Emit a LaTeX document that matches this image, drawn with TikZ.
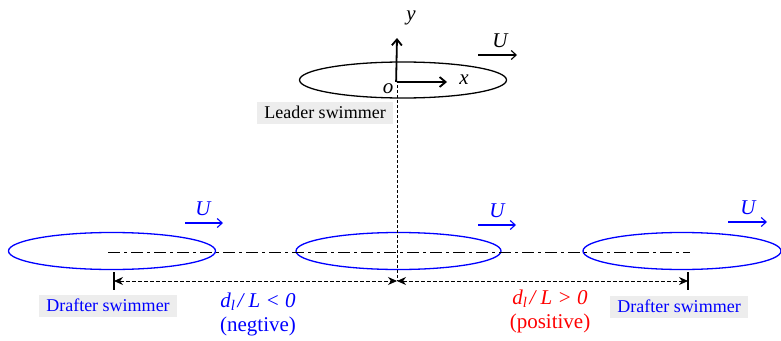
\documentclass[tikz,border=0pt]{standalone}
\usepackage{fontspec}
\setmainfont{Liberation Serif}
\usetikzlibrary{shapes.geometric,arrows.meta}
\begin{document}
\begin{tikzpicture}[x=1pt,y=-1pt,
  fish/.style={draw,ellipse,line width=1.3pt,inner sep=0pt},
  bluefish/.style={fish,draw=blue},
  uarrow/.style={line width=1.1pt,-{Straight Barb[length=5pt,width=9pt]}},
  axis/.style={line width=1.8pt,-{Straight Barb[length=6pt,width=10pt]}},
  dim/.style={line width=0.8pt,dash pattern=on 4pt off 2pt,{Stealth[length=9pt,width=8pt]}-{Stealth[length=9pt,width=8pt]}},
  tick/.style={line width=1.8pt},
  lbl/.style={fill=black!7,inner xsep=7pt,inner ysep=0pt,minimum height=22pt,font=\fontsize{18}{20}\selectfont},
  big/.style={font=\fontsize{21}{23}\selectfont,inner sep=0pt},
  ital/.style={font=\fontsize{21}{23}\selectfont\itshape,inner sep=0pt}
]
\useasboundingbox (0,0) rectangle (781,340);
% swimmers
\node[fish,minimum width=207pt,minimum height=36pt] (leader) at (403,80) {};
\node[bluefish,minimum width=207pt,minimum height=37pt] (dl) at (112,251) {};
\node[bluefish,minimum width=205pt,minimum height=37pt] (dm) at (398.5,251) {};
\node[bluefish,minimum width=198pt,minimum height=37pt] (dr) at (682,251) {};
% axes
\coordinate (o) at (397,82);
\coordinate (ytip) at (397,38);
\coordinate (xtip) at (447,82);
\draw[axis] ([xshift=-0.9pt]o) -- (ytip);
\draw[axis] (o) -- (xtip);
\node[ital] (ylab) at (411,18) {y};
\node[ital] (xlab) at (464,80) {x};
\node[ital] (olab) at (388,89) {o};
% top U
\coordinate (u0a) at (478,55);
\coordinate (u0b) at (517,55);
\draw[uarrow] (u0a) -- (u0b);
\node[ital] (u0) at (500,41) {U};
% blue U
\coordinate (u1a) at (185,223);
\coordinate (u1b) at (223,223);
\draw[uarrow,blue] (u1a) -- (u1b);
\node[ital,text=blue] (u1) at (203,209) {U};
\coordinate (u2a) at (478,225);
\coordinate (u2b) at (516,225);
\draw[uarrow,blue] (u2a) -- (u2b);
\node[ital,text=blue] (u2) at (497,211) {U};
\coordinate (u3a) at (728,222);
\coordinate (u3b) at (767,222);
\draw[uarrow,blue] (u3a) -- (u3b);
\node[ital,text=blue] (u3) at (748,208) {U};
% centre line
\coordinate (cl1) at (108,252);
\coordinate (cl2) at (690,252);
\draw[line width=0.9pt,dash pattern=on 12pt off 4pt on 3pt off 4pt] (cl1) -- (cl2);
% vertical dashed
\coordinate (v1) at (397,85);
\coordinate (v2) at (397,281);
\draw[line width=0.8pt,dash pattern=on 3pt off 2pt] (v1) -- (v2);
% dimension
\coordinate (tl) at (114,281);
\coordinate (tr) at (688,281);
\coordinate (tlt) at (114,272);
\coordinate (tlb) at (114,290);
\coordinate (trt) at (688,272);
\coordinate (trb) at (688,290);
\draw[tick] (tlt) -- (tlb);
\draw[tick] (trt) -- (trb);
\draw[dim] (tl) -- (v2);
\draw[dim] (v2) -- (tr);
% labels
\node[lbl] (leaderlbl) at (325,112.5) {Leader swimmer};
\node[lbl,text=blue] (draftl) at (108,305.5) {Drafter swimmer};
\node[lbl,text=blue] (draftr) at (679,306.5) {Drafter swimmer};
\node[big,text=blue] (neg) at (258,302) {\itshape d\textsubscript{l}\hspace{2pt}/ L < 0};
\node[big,text=blue] (negt) at (258,326) {(negtive)};
\node[big,text=red] (pos) at (550,299) {\itshape d\textsubscript{l}\hspace{2pt}/ L > 0};
\node[big,text=red] (post) at (550,323) {(positive)};
\end{tikzpicture}
\end{document}
